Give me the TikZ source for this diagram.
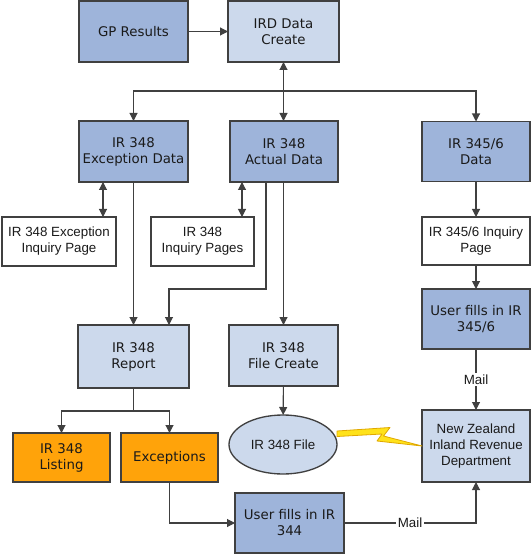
\documentclass[tikz,border=0pt]{standalone}
\usepackage{fontspec}
\setmainfont{DejaVu Sans}
\newfontfamily\arialf{Liberation Sans}
\usetikzlibrary{shapes.geometric,arrows.meta,calc}
\definecolor{dblue}{HTML}{9EB4DA}
\definecolor{lblue}{HTML}{CCD9EC}
\definecolor{orng}{HTML}{FFA30A}
\definecolor{edge}{HTML}{404040}
\definecolor{txt}{HTML}{1A1A1A}
\definecolor{boltfill}{HTML}{FFE21A}
\definecolor{boltedge}{HTML}{E0A800}
\tikzset{
  base/.style={draw=edge, line width=1pt, inner sep=0pt, outer sep=0pt, align=center,
    text=txt, font=\fontsize{10pt}{12pt}\selectfont},
  dbox/.style={base, rectangle, fill=dblue},
  lbox/.style={base, rectangle, fill=lblue},
  obox/.style={base, rectangle, fill=orng},
  wbox/.style={base, rectangle, fill=white, font=\arialf\fontsize{10pt}{12pt}\selectfont},
  sz/.style 2 args={minimum width=#1*0.75pt, minimum height=#2*0.75pt},
  conn/.style={draw=edge, line width=0.8pt},
  arr/.style={conn, -{Triangle[length=6pt,width=6pt]}},
  arrtwo/.style={conn, {Triangle[length=6pt,width=6pt]}-{Triangle[length=6pt,width=6pt]}},
  lbl/.style={fill=white, inner sep=1pt, text=txt, font=\arialf\fontsize{10pt}{12pt}\selectfont},
}
\begin{document}
\begin{tikzpicture}[x=0.75pt, y=-0.75pt]
\useasboundingbox (0,0) rectangle (531,555);
% nodes
\node[dbox, sz={109}{61}] (gp) at (133.5,31.5) {GP Results};
\node[lbox, sz={111}{61}] (ird) at (283.5,31.5) {IRD Data\\Create};
\node[dbox, sz={109}{61}] (exc) at (133.5,151.5) {IR 348\\Exception Data};
\node[dbox, sz={108}{61}] (act) at (284,151.5) {IR 348\\Actual Data};
\node[dbox, sz={108}{60}] (dat) at (476,151.5) {IR 345/6\\Data};
\node[wbox, sz={114}{49}] (excinq) at (59,241.5) {IR 348 Exception\\Inquiry Page};
\node[wbox, sz={103}{49}] (inq) at (202.5,241.5) {IR 348\\Inquiry Pages};
\node[wbox, sz={108}{48}] (inqs) at (476,241) {IR 345/6 Inquiry\\Page};
\node[dbox, sz={108}{60}] (ufs) at (476,319) {User fills in IR\\345/6};
\node[lbox, sz={111}{63}] (rep) at (133.5,356.5) {IR 348\\Report};
\node[lbox, sz={109}{61}] (fc) at (283.5,355.5) {IR 348\\File Create};
\node[base, ellipse, fill=lblue, sz={108}{59}, font=\arialf\fontsize{10pt}{12pt}\selectfont] (file) at (283,444.5) {IR 348 File};
\node[wbox, fill=lblue, sz={108}{72}] (nz) at (476,446) {New Zealand\\Inland Revenue\\Department};
\node[obox, sz={97}{49}] (list) at (61.5,457.5) {IR 348\\Listing};
\node[obox, sz={97}{49}] (exs) at (169.5,457.5) {Exceptions};
\node[dbox, sz={109}{60}] (uf) at (289.5,523) {User fills in IR\\344};
% junctions
\coordinate (hb) at (283.5,91);
\coordinate (j1) at (169,289);
\coordinate (j2) at (133.5,411);
\coordinate (a1) at ($(exc.south)+(-30.5,0)$);
\coordinate (a2) at ($(act.south)+(-42,0)$);
\coordinate (a3) at ($(act.south)+(-18,0)$);
% connectors
\draw[arr] (gp) -- (ird);
\draw[arrtwo] (ird.south) -- (ird.south |- act.north);
\draw[arr] (hb) -| (exc.north);
\draw[arr] (hb) -| (dat.north);
\draw[arrtwo] (a1) -- (a1 |- excinq.north);
\draw[arr] (exc.south) -- (rep.north);
\draw[arrtwo] (a2) -- (a2 |- inq.north);
\draw[arr] (a3) |- (j1) -- (j1 |- rep.north);
\draw[arr] (act.south -| fc.north) -- (fc.north);
\draw[arr] (fc) -- (file);
\draw[arr] (dat) -- (inqs);
\draw[arr] (inqs) -- (ufs);
\draw[arr] (ufs) -- node[lbl] {Mail} (nz);
\draw[conn] (rep.south) -- (j2);
\draw[arr] (j2) -| (list.north);
\draw[arr] (j2) -| (exs.north);
\draw[arr] (exs.south) |- (uf.west);
\draw[arr] (uf.east) -| node[lbl, pos=0.25] {Mail} (nz.south);
% lightning bolt
\draw[boltedge, fill=boltfill, line width=0.6pt, line join=round]
  (file.east |- 0,431) -- (390,427.5) -- (383.5,436) -- (nz.west |- 0,446)
  -- (377,441) -- (382,434) -- (file.east |- 0,436.5) -- cycle;
\end{tikzpicture}
\end{document}
